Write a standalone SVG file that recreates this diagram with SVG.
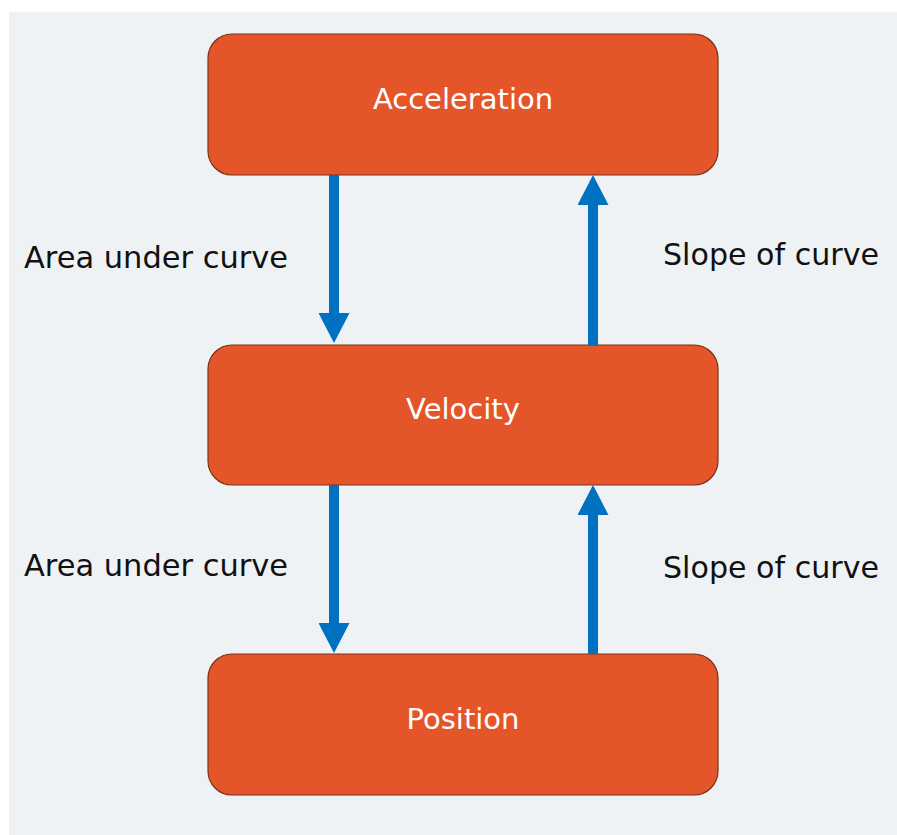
<svg xmlns="http://www.w3.org/2000/svg" width="897" height="835" viewBox="0 0 897 835">
<style>
.node rect{fill:#E5552A;stroke:#7A3218;stroke-width:1.2}
.node text{font-family:"DejaVu Sans","Verdana",sans-serif;font-size:29px;fill:#ffffff;text-anchor:middle}
.lbl{font-family:"DejaVu Sans","Verdana",sans-serif;font-size:30px;fill:#111111}
.conn line{stroke:#0070C0;stroke-width:10;marker-end:url(#ah)}
</style>
<defs>
<marker id="ah" markerUnits="userSpaceOnUse" markerWidth="31" markerHeight="31" viewBox="0 0 30 31" refX="0" refY="15.5" orient="auto">
<path d="M0,0 L30,15.5 L0,31 Z" fill="#0070C0"/>
</marker>
</defs>
<rect x="9" y="12" width="888" height="823" fill="#EEF2F4"/>
<g id="acceleration" class="node"><rect x="208" y="34" width="510" height="141" rx="24"/><text x="463" y="109">Acceleration</text></g>
<g id="velocity" class="node"><rect x="208" y="345" width="510" height="140" rx="24"/><text x="463" y="419">Velocity</text></g>
<g id="position" class="node"><rect x="208" y="654" width="510" height="141" rx="24"/><text x="463" y="729">Position</text></g>
<g id="connectors" class="conn">
<line x1="334" y1="175" x2="334" y2="313"/>
<line x1="593" y1="345" x2="593" y2="205"/>
<line x1="334" y1="485" x2="334" y2="623"/>
<line x1="593" y1="654" x2="593" y2="515"/>
</g>
<g id="labels">
<text class="lbl" x="24" y="268" textLength="264" lengthAdjust="spacingAndGlyphs">Area under curve</text>
<text class="lbl" x="663" y="265" textLength="216" lengthAdjust="spacingAndGlyphs">Slope of curve</text>
<text class="lbl" x="24" y="576" textLength="264" lengthAdjust="spacingAndGlyphs">Area under curve</text>
<text class="lbl" x="663" y="578" textLength="216" lengthAdjust="spacingAndGlyphs">Slope of curve</text>
</g>
</svg>
